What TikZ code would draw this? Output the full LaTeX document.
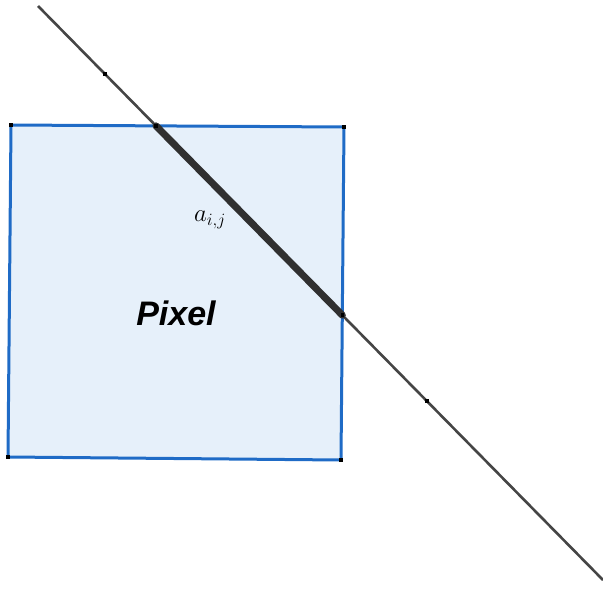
\documentclass[tikz,border=0pt]{standalone}
\usepackage{fontspec}
\newfontfamily\pixelfont{Liberation Sans}
\usetikzlibrary{intersections}
\definecolor{pixelblue}{HTML}{1F6BC6}
\definecolor{pixelfill}{HTML}{E6F0FA}
\definecolor{raygray}{HTML}{454545}

\begin{document}
\begin{tikzpicture}[x=1pt,y=-1pt,
    pixeledge/.style={draw=pixelblue,line width=3pt,fill=pixelfill,line join=miter},
    ray/.style={draw=raygray,line width=2.6pt},
    raypart/.style={draw=raygray!70!black,line width=7pt,line cap=round},
    cornerdot/.style={fill=black,inner sep=0pt,minimum size=4pt,rectangle}]
\useasboundingbox (0,0) rectangle (603,590);

% Corners of the pixel
\coordinate (p1) at (11,125);
\coordinate (p2) at (344,127);
\coordinate (p3) at (341,460);
\coordinate (p4) at (8,457);

% Pixel square
\path[pixeledge] (p1) -- (p2) -- (p3) -- (p4) -- cycle;
\path[name path=topedge] (p1) -- (p2);
\path[name path=rightedge] (p2) -- (p3);

% Ray through the pixel
\coordinate (r1) at (38,6);
\coordinate (r2) at (603,580);
\draw[ray,name path=raypath] (r1) -- (r2);

% Part of the ray inside the pixel
\path[name intersections={of=raypath and topedge,name=in}];
\path[name intersections={of=raypath and rightedge,name=out}];
\draw[raypart] (in-1) -- (out-1);

% Points on the ray
\coordinate (q1) at (105,74);
\coordinate (q2) at (427,401);
\foreach \c in {p1,p2,p3,p4,q1,q2,in-1,out-1} {
    \node[cornerdot,minimum size=3.5pt] at (\c) {};
}

% Labels
\node (alabel) at (210,220) {\fontsize{24}{28}\selectfont$a_{i,j}$};
\node (pixlabel) at (176,313) {\fontsize{34}{40}\selectfont\pixelfont\bfseries\itshape Pixel};
\end{tikzpicture}
\end{document}
